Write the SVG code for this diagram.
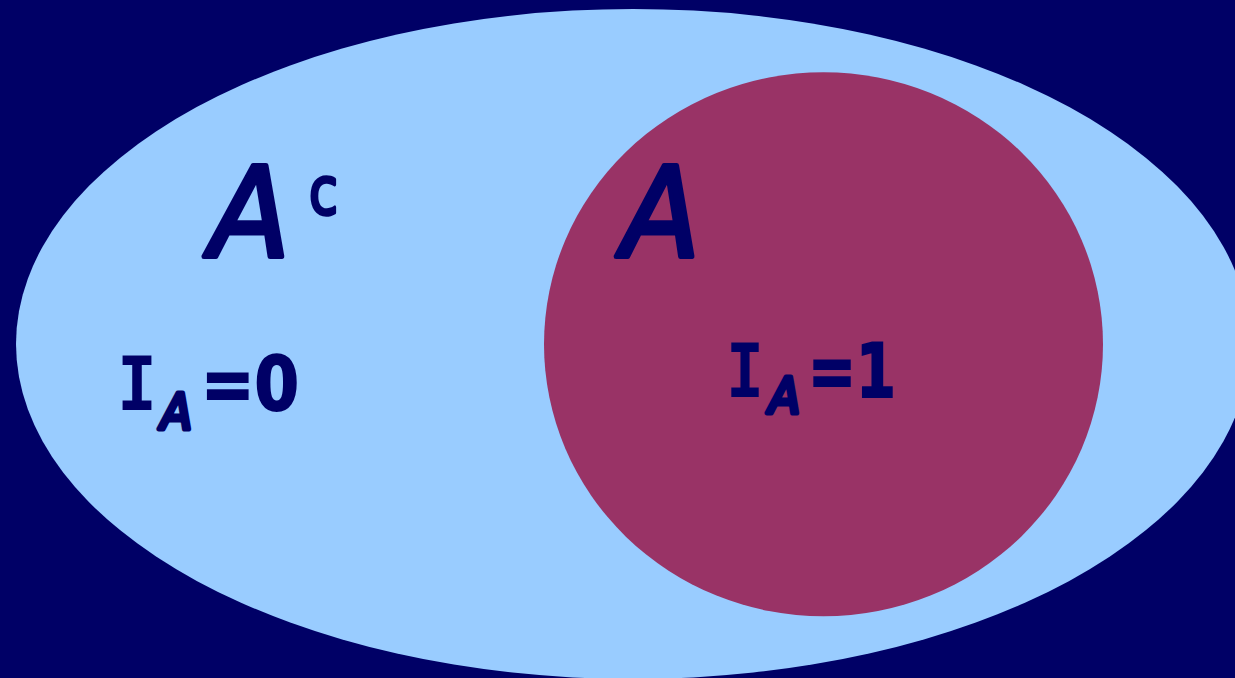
<svg xmlns="http://www.w3.org/2000/svg" width="1235" height="678" viewBox="0 0 1235 678">
<style>
.t{fill:#000066;font-family:"DejaVu Sans",sans-serif;font-weight:bold}
.i{font-family:"DejaVu Sans Mono",monospace}
.a{fill:#000066;font-family:"DejaVu Sans",sans-serif;font-weight:normal;font-style:oblique;stroke:#000066;stroke-width:5;stroke-linejoin:round}
.c{fill:#000066;font-family:"DejaVu Sans",sans-serif;font-weight:normal;font-style:normal;stroke:#000066;stroke-width:3.5;stroke-linejoin:round}
</style>
<rect width="1235" height="678" fill="#000066"/>
<g id="universe"><ellipse cx="633" cy="344" rx="617" ry="335" fill="#99CCFF"/></g>
<g id="setA"><ellipse cx="823.5" cy="344.3" rx="279.5" ry="272" fill="#993366"/></g>
<g id="label-Ac">
<text class="a" x="210" y="256" font-size="124" textLength="80" lengthAdjust="spacingAndGlyphs">A</text>
<text class="c" x="309" y="214" font-size="66" textLength="29" lengthAdjust="spacingAndGlyphs">c</text>
</g>
<g id="label-A">
<text class="a" x="622" y="256" font-size="124" textLength="78" lengthAdjust="spacingAndGlyphs">A</text>
</g>
<g id="label-IA0">
<text class="t i" x="117" y="410" font-size="75" textLength="40" lengthAdjust="spacingAndGlyphs">I</text>
<text class="a" x="161" y="429" font-size="50" stroke-width="2.5" textLength="31" lengthAdjust="spacingAndGlyphs">A</text>
<text class="t" x="201" y="410" font-size="75" stroke="#000066" stroke-width="2" textLength="98" lengthAdjust="spacingAndGlyphs">=0</text>
</g>
<g id="label-IA1">
<text class="t i" x="726" y="397" font-size="75" textLength="38" lengthAdjust="spacingAndGlyphs">I</text>
<text class="a" x="769" y="413" font-size="50" stroke-width="2.5" textLength="31" lengthAdjust="spacingAndGlyphs">A</text>
<text class="t" x="808" y="397" font-size="75" stroke="#000066" stroke-width="2" textLength="88" lengthAdjust="spacingAndGlyphs">=1</text>
</g>
</svg>
